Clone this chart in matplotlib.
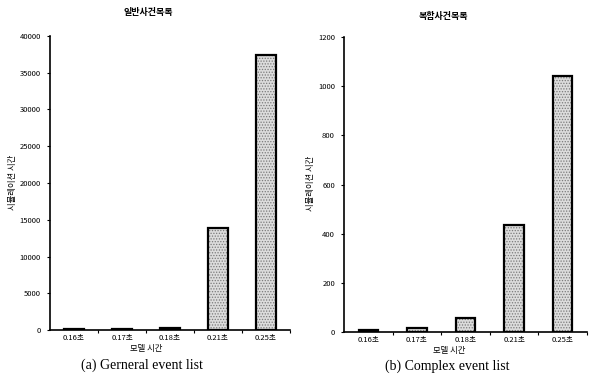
import numpy as np
import matplotlib
matplotlib.use("Agg")
import matplotlib.pyplot as plt
from matplotlib.ticker import FixedLocator

plt.rcParams['font.family'] = ['Noto Sans CJK KR', 'DejaVu Sans']
plt.rcParams['hatch.linewidth'] = 0.6

categories = ['0.16초', '0.17초', '0.18초', '0.21초', '0.25초']
general_times = [100, 120, 300, 13900, 37400]
complex_times = [8, 17, 57, 435, 1040]

general_ticks = [0, 5000, 10000, 15000, 20000, 25000, 30000, 35000, 40000]
complex_ticks = [0, 200, 400, 600, 800, 1000, 1200]

fig = plt.figure(figsize=(5.94, 3.74), dpi=100)
ax1 = fig.add_axes([50 / 594, 1 - 330 / 374, 240 / 594, 294 / 374])
ax2 = fig.add_axes([344 / 594, 1 - 332 / 374, 243 / 594, 295 / 374])


def draw(ax, values, ticks, ymax):
    x = np.arange(len(categories))
    ax.bar(x, values, width=0.4, color='#dcdcdc', edgecolor='#7a7a7a',
           hatch='......', linewidth=0)
    ax.bar(x, values, width=0.4, facecolor='none', edgecolor='black',
           linewidth=1.6)
    ax.set_xlim(-0.5, len(categories) - 0.5)
    ax.set_ylim(0, ymax)
    ax.set_xticks(x)
    ax.set_xticklabels(categories, fontsize=5.5)
    ax.xaxis.set_minor_locator(FixedLocator(np.arange(len(categories)) + 0.5))
    ax.tick_params(axis='x', which='major', length=0, pad=3)
    ax.tick_params(axis='x', which='minor', length=2, width=0.8)
    ax.set_yticks(ticks)
    ax.set_yticklabels([str(t) for t in ticks], fontsize=5.5)
    ax.tick_params(axis='y', length=2.5, width=0.8, pad=4)
    for s in ['top', 'right']:
        ax.spines[s].set_visible(False)
    for s in ['left', 'bottom']:
        ax.spines[s].set_linewidth(1.2)


draw(ax1, general_times, general_ticks, 40000)
draw(ax2, complex_times, complex_ticks, 1200)

fig.text(148 / 594, 1 - 12 / 374, '일반사건목록', fontsize=6.5,
         fontweight='bold', ha='center', va='center')
fig.text(443 / 594, 1 - 16 / 374, '복합사건목록', fontsize=6.5,
         fontweight='bold', ha='center', va='center')

fig.text(12 / 594, 1 - 182 / 374, '시뮬레이션 시간', fontsize=6,
         rotation=90, ha='center', va='center')
fig.text(310 / 594, 1 - 183 / 374, '시뮬레이션 시간', fontsize=6,
         rotation=90, ha='center', va='center')

fig.text(146 / 594, 1 - 349 / 374, '모델 시간', fontsize=6,
         ha='center', va='center')
fig.text(449 / 594, 1 - 350 / 374, '모델 시간', fontsize=6,
         ha='center', va='center')

fig.text(142 / 594, 1 - 365 / 374, '(a) Gerneral event list', fontsize=10,
         family='Liberation Serif', ha='center', va='center')
fig.text(447 / 594, 1 - 366 / 374, '(b) Complex event list', fontsize=10,
         family='Liberation Serif', ha='center', va='center')

fig.savefig('out.png', dpi=100)
